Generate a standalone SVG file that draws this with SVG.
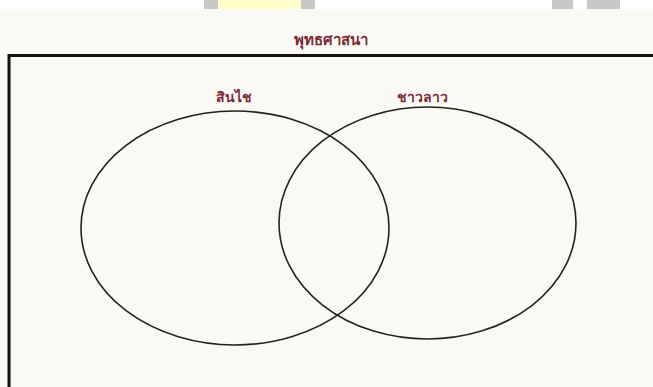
<svg xmlns="http://www.w3.org/2000/svg" width="653" height="387" viewBox="0 0 653 387">
<style>
.lbl{font-family:"Noto Sans","DejaVu Sans","Liberation Sans",sans-serif;font-weight:bold;fill:#7a2b33;text-anchor:middle}
.set{fill:none;stroke:#222;stroke-width:1.6}
</style>
<rect x="0" y="0" width="653" height="387" fill="#faf9f5"/>
<rect x="0" y="0" width="653" height="9" fill="#ffffff"/>
<rect x="204" y="0" width="14" height="9" fill="#c8c8c8"/>
<rect x="218" y="0" width="83" height="9" fill="#ffffcc"/>
<rect x="301" y="0" width="14" height="9" fill="#c8c8c8"/>
<rect x="552" y="0" width="21" height="9" fill="#c8c8c8"/>
<rect x="587" y="0" width="33" height="9" fill="#c8c8c8"/>
<g id="universe">
<rect x="9" y="55.5" width="660" height="350" fill="none" stroke="#111" stroke-width="3"/>
<text class="lbl" x="331" y="45" font-size="15">พุทธศาสนา</text>
</g>
<g id="set-left">
<ellipse class="set" cx="235" cy="228" rx="154" ry="117"/>
<text class="lbl" x="234" y="102" font-size="14">สินไช</text>
</g>
<g id="set-right">
<ellipse class="set" cx="427.5" cy="223" rx="148.5" ry="116"/>
<text class="lbl" x="422" y="102" font-size="14">ชาวลาว</text>
</g>
<g id="connectors"></g>
</svg>
